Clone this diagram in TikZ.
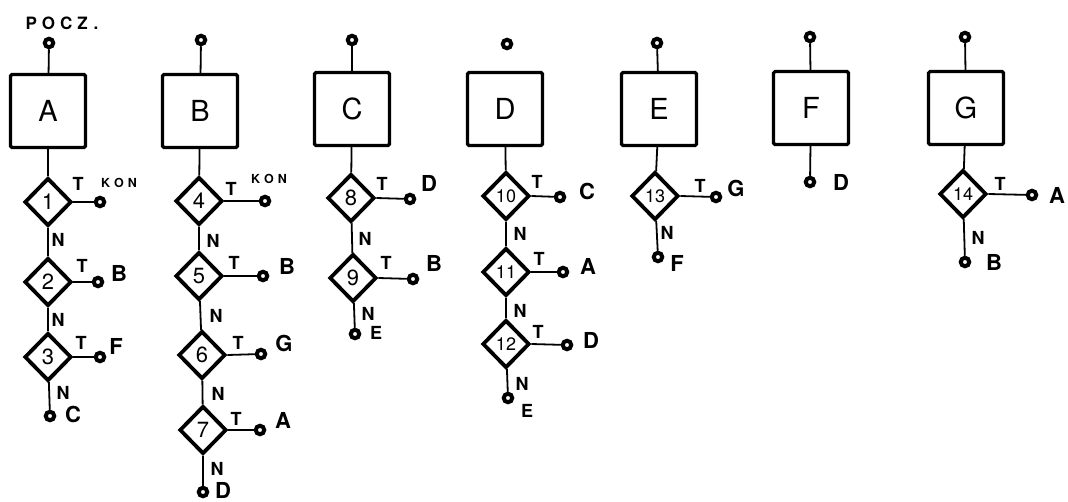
\documentclass[tikz,border=0pt]{standalone}
\usepackage{fontspec}
\setmainfont{TeX Gyre Heros}
\usetikzlibrary{shapes.geometric}

% spaced lettering for the small tags
\newcommand{\spc}{\kern4pt}

\tikzset{
  block/.style={draw, line width=3.2pt, minimum width=75pt, minimum height=73pt,
    rounded corners=1.5pt, inner sep=0pt, font=\fontsize{29}{29}\selectfont},
  test/.style={draw, diamond, line width=3.8pt, minimum width=47pt, minimum height=48pt,
    inner sep=0pt, font=\fontsize{22}{22}\selectfont},
  wide/.style={font=\fontsize{18}{18}\selectfont},
  term/.style={draw, circle, line width=4pt, minimum size=8.5pt, inner sep=0pt, fill=white},
  wire/.style={line width=1.8pt},
  lab/.style={inner sep=0pt, font=\fontsize{18}{18}\bfseries\selectfont},
  dest/.style={inner sep=0pt, font=\fontsize{22}{22}\bfseries\selectfont},
  tiny/.style={inner sep=0pt, font=\fontsize{12.5}{12.5}\bfseries\selectfont},
  head/.style={inner sep=0pt, font=\fontsize{17}{17}\bfseries\selectfont},
}

\begin{document}
\begin{tikzpicture}[x=1pt, y=-1pt]
  \useasboundingbox (0,0) rectangle (1068,501);

  % ---------------- A ----------------
  \node[head] (pocz) at (62,23) {P\kern5pt O\kern5pt C\kern5pt Z\kern6pt.};
  \node[term] (a0) at (49,43) {};
  \node[block] (A) at (48,111) {A};
  \node[test] (d1) at (48,202) {1};
  \node[term] (e1) at (100,202) {};
  \node[lab] (t1) at (78,184) {T};
  \node[tiny] (k1) at (119,183) {K\spc O\spc N};
  \node[lab] (n1) at (58,240) {N};
  \node[test] (d2) at (48,282) {2};
  \node[term] (e2) at (98,282) {};
  \node[lab] (t2) at (82,266) {T};
  \node[dest] (x2) at (119,273) {B};
  \node[lab] (n2) at (58,320) {N};
  \node[test] (d3) at (48,357) {3};
  \node[term] (e3) at (100,357) {};
  \node[lab] (t3) at (81,343) {T};
  \node[dest] (x3) at (116,346) {F};
  \node[lab] (n3) at (63,393) {N};
  \node[term] (b3) at (50,416) {};
  \node[dest] (y3) at (73,414) {C};
  \draw[wire] (a0) -- (A);
  \draw[wire] (A) -- (d1);
  \draw[wire] (d1) -- (d2);
  \draw[wire] (d2) -- (d3);
  \draw[wire] (d3) -- (b3);
  \draw[wire] (d1.east) -- (e1);
  \draw[wire] (d2.east) -- (e2);
  \draw[wire] (d3.east) -- (e3);

  % ---------------- B ----------------
  \node[term] (b0) at (201,40) {};
  \node[block] (B) at (200,111) {B};
  \node[test] (d4) at (199,201) {4};
  \node[term] (e4) at (265,201) {};
  \node[lab] (t4) at (231,189) {T};
  \node[tiny] (k4) at (269,179) {K\spc O\spc N};
  \node[lab] (n4) at (213,241) {N};
  \node[test] (d5) at (199,276) {5};
  \node[term] (e5) at (263,276) {};
  \node[lab] (t5) at (234,263) {T};
  \node[dest] (x5) at (287,266) {B};
  \node[lab] (n5) at (216,316) {N};
  \node[test] (d6) at (202,355) {6};
  \node[term] (e6) at (261,354) {};
  \node[lab] (t6) at (238,343) {T};
  \node[dest] (x6) at (284,343) {G};
  \node[lab] (n6) at (218,394) {N};
  \node[test] (d7) at (203,430) {7};
  \node[term] (e7) at (260,430) {};
  \node[lab] (t7) at (236,419) {T};
  \node[dest] (x7) at (283,420) {A};
  \node[lab] (n7) at (217,469) {N};
  \node[term] (b7) at (203,492) {};
  \node[dest] (y7) at (223,490) {D};
  \draw[wire] (b0) -- (B);
  \draw[wire] (B) -- (d4);
  \draw[wire] (d4) -- (d5);
  \draw[wire] (d5) -- (d6);
  \draw[wire] (d6) -- (d7);
  \draw[wire] (d7) -- (b7);
  \draw[wire] (d4.east) -- (e4);
  \draw[wire] (d5.east) -- (e5);
  \draw[wire] (d6.east) -- (e6);
  \draw[wire] (d7.east) -- (e7);

  % ---------------- C ----------------
  \node[term] (c0) at (352,40) {};
  \node[block] (C) at (352,109) {C};
  \node[test] (d8) at (351,198) {8};
  \node[term] (e8) at (410,199) {};
  \node[lab] (t8) at (382,184) {T};
  \node[dest] (x8) at (429,183) {D};
  \node[lab] (n8) at (365,239) {N};
  \node[test] (d9) at (353,278) {9};
  \node[term] (e9) at (413,279) {};
  \node[lab] (t9) at (386,263) {T};
  \node[dest] (x9) at (434,263) {B};
  \node[lab] (n9) at (368,314) {N};
  \node[term] (b9) at (355,334) {};
  \node[lab] (y9) at (376,333) {E};
  \draw[wire] (c0) -- (C);
  \draw[wire] (C) -- (d8);
  \draw[wire] (d8) -- (d9);
  \draw[wire] (d9) -- (b9);
  \draw[wire] (d8.east) -- (e8);
  \draw[wire] (d9.east) -- (e9);

  % ---------------- D ----------------
  \node[term] (dd0) at (507,44) {};
  \node[block] (D) at (505,109) {D};
  \node[test, wide] (d10) at (506,196) {10};
  \node[term] (e10) at (560,197) {};
  \node[lab] (t10) at (537,182) {T};
  \node[dest] (x10) at (587,191) {C};
  \node[lab] (n10) at (520,234) {N};
  \node[test, wide] (d11) at (506,272) {11};
  \node[term] (e11) at (563,272) {};
  \node[lab] (t11) at (539,259) {T};
  \node[dest] (x11) at (588,266) {A};
  \node[lab] (n11) at (520,311) {N};
  \node[test, wide] (d12) at (506,344) {12};
  \node[term] (e12) at (567,345) {};
  \node[lab] (t12) at (538,332) {T};
  \node[dest] (x12) at (591,340) {D};
  \node[lab] (n12) at (522,384) {N};
  \node[term] (b12) at (508,398) {};
  \node[lab] (y12) at (527,411) {E};
  \draw[wire] (D) -- (d10);
  \draw[wire] (d10) -- (d11);
  \draw[wire] (d11) -- (d12);
  \draw[wire] (d12) -- (b12);
  \draw[wire] (d10.east) -- (e10);
  \draw[wire] (d11.east) -- (e11);
  \draw[wire] (d12.east) -- (e12);

  % ---------------- E ----------------
  \node[term] (ee0) at (657,43) {};
  \node[block] (E) at (659,109) {E};
  \node[test, wide] (d13) at (655,196) {13};
  \node[term] (e13) at (716,197) {};
  \node[lab] (t13) at (700,186) {T};
  \node[dest] (x13) at (736,188) {G};
  \node[lab] (n13) at (667,233) {N};
  \node[term] (b13) at (658,257) {};
  \node[dest] (y13) at (677,263) {F};
  \draw[wire] (ee0) -- (E);
  \draw[wire] (E) -- (d13);
  \draw[wire] (d13) -- (b13);
  \draw[wire] (d13.east) -- (e13);

  % ---------------- F ----------------
  \node[term] (f0) at (810,37) {};
  \node[block] (F) at (811,108) {F};
  \node[term] (bf) at (810,182) {};
  \node[dest] (yf) at (841,182) {D};
  \draw[wire] (f0) -- (F);
  \draw[wire] (F) -- (bf);

  % ---------------- G ----------------
  \node[term] (g0) at (965,37) {};
  \node[block] (G) at (966,108) {G};
  \node[test, wide] (d14) at (963,194) {14};
  \node[term] (e14) at (1032,195) {};
  \node[lab] (t14) at (1000,184) {T};
  \node[dest] (x14) at (1057,195) {A};
  \node[lab] (n14) at (978,238) {N};
  \node[term] (b14) at (965,262) {};
  \node[dest] (y14) at (994,262) {B};
  \draw[wire] (g0) -- (G);
  \draw[wire] (G) -- (d14);
  \draw[wire] (d14) -- (b14);
  \draw[wire] (d14.east) -- (e14);
\end{tikzpicture}
\end{document}
